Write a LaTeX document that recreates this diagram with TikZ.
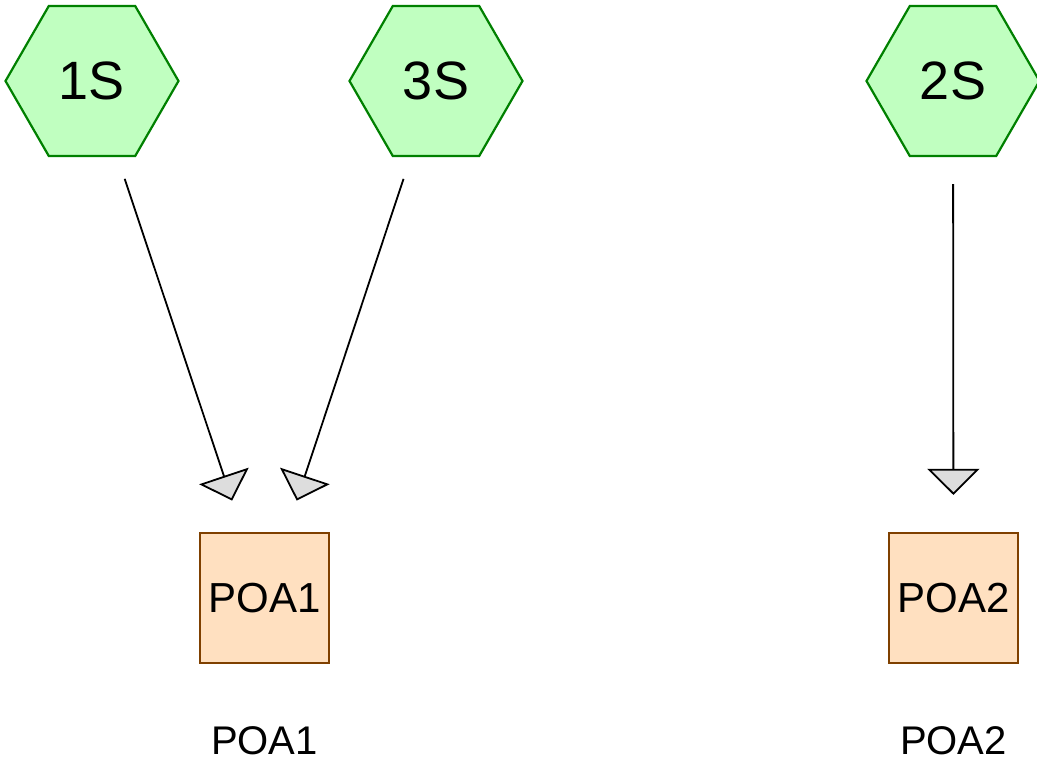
\documentclass[tikz,border=0pt]{standalone}
\usepackage{fontspec}
\setmainfont{Liberation Sans}
\usetikzlibrary{shapes.geometric,arrows.meta}
\definecolor{hexfill}{HTML}{C0FFC0}
\definecolor{hexline}{HTML}{008000}
\definecolor{boxfill}{HTML}{FFE0C0}
\definecolor{boxline}{HTML}{7F4000}
\definecolor{tipfill}{HTML}{DDDDDD}
\begin{document}
\begin{tikzpicture}[x=1pt,y=-1pt,
  hexnode/.style={regular polygon, regular polygon sides=6, minimum size=173pt,
    inner sep=0pt, draw=hexline, fill=hexfill, line width=2.2pt,
    font=\fontsize{54}{54}\selectfont},
  poanode/.style={rectangle, minimum width=129pt, minimum height=130pt,
    inner sep=0pt, draw=boxline, fill=boxfill, line width=2.2pt,
    font=\fontsize{42}{42}\selectfont},
  caption/.style={font=\fontsize{40}{40}\selectfont, inner sep=0pt},
  link/.style={line width=1.8pt, draw=black,
    -{Triangle[width=52pt,length=26pt,fill=tipfill,line width=1.8pt]}}
]
\useasboundingbox (0,0) rectangle (1037,771);

% source hexagons
\node[hexnode] (s1) at (92,81) {\raisebox{-3pt}{1S}};
\node[hexnode] (s3) at (436,81) {\raisebox{-3pt}{3S}};
\node[hexnode] (s2) at (953,81) {\raisebox{-3pt}{2S}};

% target boxes
\node[poanode] (p1) at (264.5,598) {POA1};
\node[poanode] (p2) at (953.5,598) {POA2};

% captions under the boxes
\node[caption] (c1) at (264.5,741) {POA1};
\node[caption] (c2) at (953.5,741) {POA2};

% connectors
\draw[link, shorten <=23pt, shorten >=33pt] (s1) -- (p1);
\draw[link, shorten <=23pt, shorten >=33pt] (s3) -- (p1);
\draw[link, shorten <=27pt, shorten >=37pt] (s2) -- (p2);
\end{tikzpicture}
\end{document}
